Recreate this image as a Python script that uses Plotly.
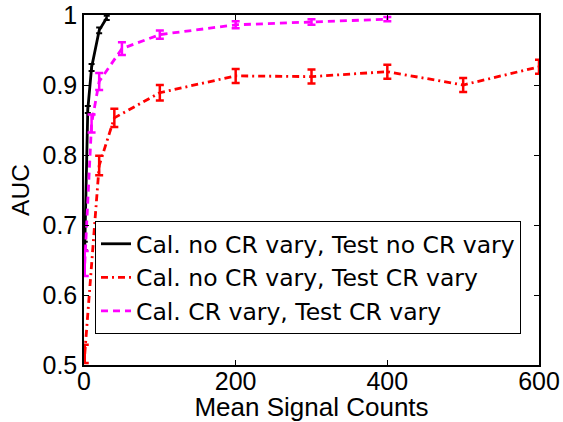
import plotly.graph_objects as go

# ---- data ----
black_x = [1, 5, 10, 20, 30]
black_auc = [0.67, 0.865, 0.925, 0.978, 0.996]
black_err = [0.006, 0.005, 0.005, 0.004, 0.003]

red_x = [1, 20, 40, 100, 200, 300, 400, 500, 600]
red_auc = [0.516, 0.785, 0.853, 0.889, 0.913, 0.912, 0.919, 0.900, 0.926]
red_err = [0.013, 0.014, 0.013, 0.011, 0.010, 0.010, 0.010, 0.010, 0.010]

mag_x = [1, 10, 20, 50, 100, 200, 300, 400]
mag_auc = [0.645, 0.845, 0.905, 0.952, 0.972, 0.986, 0.990, 0.994]
mag_err = [0.018, 0.013, 0.012, 0.009, 0.006, 0.005, 0.004, 0.003]

names = ["Cal. no CR vary, Test no CR vary",
         "Cal. no CR vary, Test CR vary",
         "Cal. CR vary, Test CR vary"]

x_ticks = [0, 200, 400, 600]
y_ticks = [0.5, 0.6, 0.7, 0.8, 0.9, 1.0]
y_tick_text = ["0.5", "0.6", "0.7", "0.8", "0.9", "1"]

FONT = "Liberation Sans, Arial, Helvetica, sans-serif"
LEGEND_FONT = "DejaVu Sans, Liberation Sans, sans-serif"

fig = go.Figure()
fig.add_trace(go.Scatter(
    x=black_x, y=black_auc, mode="lines", name=names[0],
    line=dict(color="black", width=2.8),
    error_y=dict(type="data", array=black_err, color="black", thickness=2, width=3),
))
fig.add_trace(go.Scatter(
    x=red_x, y=red_auc, mode="lines", name=names[1],
    line=dict(color="#ff0000", width=2.8, dash="7px,4px,2px,4px"),
    error_y=dict(type="data", array=red_err, color="#ff0000", thickness=2.5, width=4),
))
fig.add_trace(go.Scatter(
    x=mag_x, y=mag_auc, mode="lines", name=names[2],
    line=dict(color="#ff00ff", width=2.8, dash="7px,5px"),
    error_y=dict(type="data", array=mag_err, color="#ff00ff", thickness=2.5, width=4),
))

fig.update_layout(
    width=563, height=422,
    margin=dict(l=84, r=24, t=15, b=57, autoexpand=False),
    paper_bgcolor="white", plot_bgcolor="white",
    font=dict(family=FONT, size=25, color="black"),
    showlegend=True,
    legend=dict(
        x=(95 - 84) / 455, y=(365 - 221) / 350, xanchor="left", yanchor="top",
        bgcolor="white", bordercolor="black", borderwidth=1,
        font=dict(family=LEGEND_FONT, size=23.5, color="black"),
        tracegroupgap=0, itemwidth=30,
    ),
)
fig.update_xaxes(
    range=[0, 600], tickvals=x_ticks, ticktext=[str(v) for v in x_ticks],
    showgrid=False, zeroline=False, automargin=True,
    showline=True, linecolor="black", linewidth=1.5, mirror="ticks",
    ticks="inside", ticklen=5, tickcolor="black", ticklabelstandoff=-7,
    title=dict(text="Mean Signal Counts", font=dict(size=26), standoff=3),
)
fig.update_yaxes(
    range=[0.5, 1.0], tickvals=y_ticks, ticktext=y_tick_text,
    showgrid=False, zeroline=False, automargin=False,
    showline=True, linecolor="black", linewidth=1.5, mirror="ticks",
    ticks="inside", ticklen=5, tickcolor="black",
    title=dict(text="AUC", font=dict(size=24.5), standoff=6),
)

fig.write_html(
    "out.html",
    config={"displayModeBar": False},
    post_script="document.body.style.margin='0';document.body.style.overflow='hidden';",
)
